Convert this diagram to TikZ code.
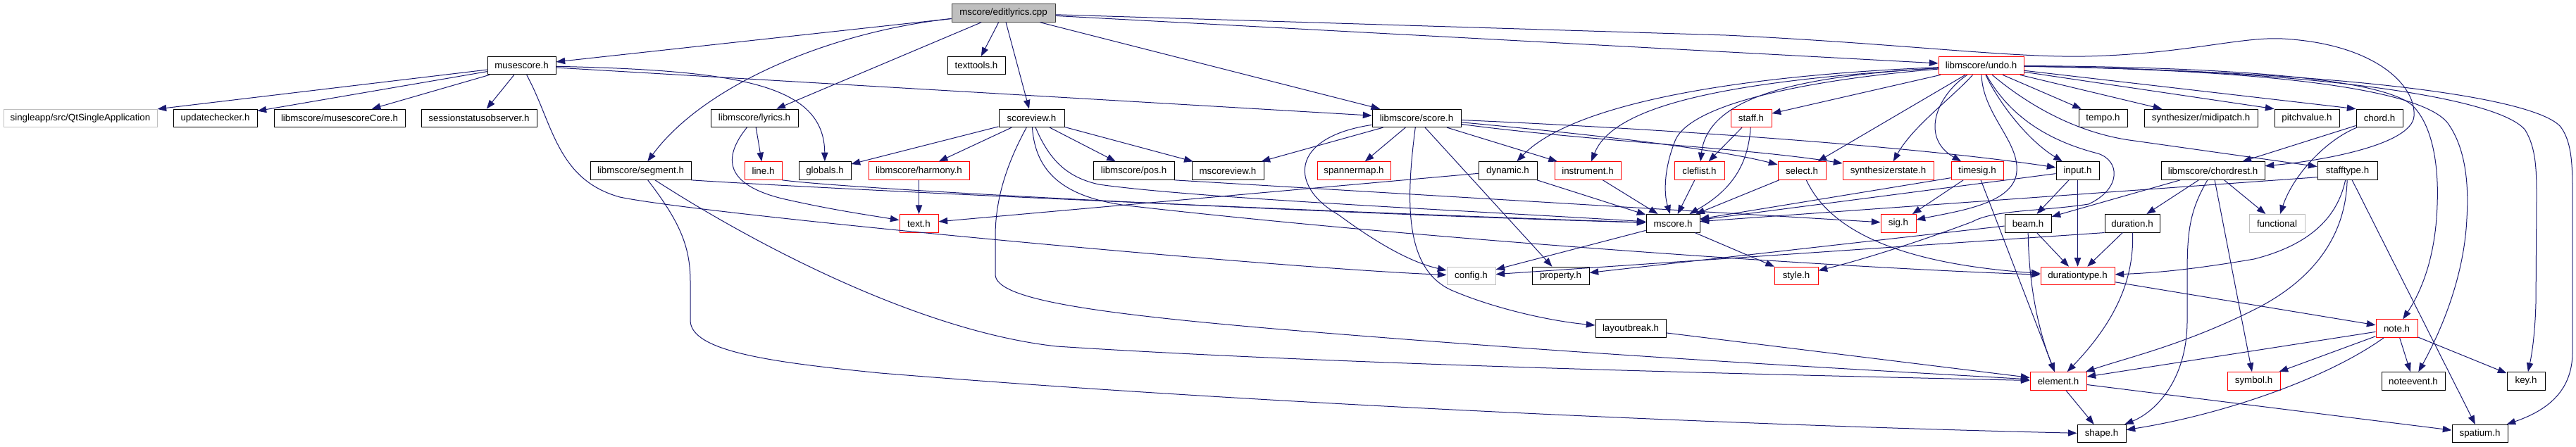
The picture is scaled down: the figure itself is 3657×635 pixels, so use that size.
\documentclass[tikz,border=0pt]{standalone}
\usepackage{fontspec}
\setmainfont{Liberation Sans}
\usetikzlibrary{arrows.meta}
\definecolor{eblue}{RGB}{25,25,112}
\definecolor{ngray}{RGB}{191,191,191}
\definecolor{ndark}{RGB}{64,64,64}
\newcommand\mkbox[6]{\node[#1, minimum width={(#4-#3)*0.75pt}] (#2) at ({(#3+#4)/2},#5) {#6};}
\tikzset{
 box/.style={draw=black, fill=white, line width=0.75pt, inner sep=0pt, minimum height=19.1pt, font=\fontsize{10}{12}\selectfont, text=black},
 rbox/.style={box, draw=red},
 gbox/.style={box, draw=ngray},
 mbox/.style={box, fill=ngray, draw=ndark},
 dep/.style={draw=eblue, line width=0.75pt, -{Triangle[length=9.5pt,width=7pt]}},
}
\begin{document}
\begin{tikzpicture}[x=0.75pt,y=-0.75pt]
\useasboundingbox (0,0) rectangle (3657,635);
% row 0
\mkbox{mbox}{ed}{1351}{1498}{18.5}{mscore/editlyrics.cpp}
% row 1
\mkbox{box}{muse}{692}{789}{93.2}{musescore.h}
\mkbox{box}{tt}{1345}{1427}{93.2}{texttools.h}
\mkbox{rbox}{undo}{2752}{2873}{93.2}{libmscore/undo.h}
% row 2
\mkbox{gbox}{qt}{5}{223}{167.9}{singleapp/src/QtSingleApplication}
\mkbox{box}{upd}{246}{365}{167.9}{updatechecker.h}
\mkbox{box}{core}{389}{575}{167.9}{libmscore/musescoreCore.h}
\mkbox{box}{sess}{598}{762}{167.9}{sessionstatusobserver.h}
\mkbox{box}{lyr}{1009}{1133}{167.9}{libmscore/lyrics.h}
\mkbox{box}{sv}{1418}{1511}{167.9}{scoreview.h}
\mkbox{box}{score}{1948}{2074}{167.9}{libmscore/score.h}
\mkbox{rbox}{staff}{2457}{2515}{167.9}{staff.h}
\mkbox{box}{tempo}{2951}{3020}{167.9}{tempo.h}
\mkbox{box}{midi}{3044}{3205}{167.9}{synthesizer/midipatch.h}
\mkbox{box}{pitch}{3229}{3321}{167.9}{pitchvalue.h}
\mkbox{box}{chord}{3345}{3411}{167.9}{chord.h}
% row 3
\mkbox{box}{seg}{838}{981}{242.6}{libmscore/segment.h}
\mkbox{rbox}{line}{1057}{1110}{242.6}{line.h}
\mkbox{box}{glob}{1134}{1208}{242.6}{globals.h}
\mkbox{rbox}{harm}{1233}{1376}{242.6}{libmscore/harmony.h}
\mkbox{box}{pos}{1552}{1667}{242.6}{libmscore/pos.h}
\mkbox{box}{msv}{1692}{1794}{242.6}{mscoreview.h}
\mkbox{rbox}{span}{1870}{1974}{242.6}{spannermap.h}
\mkbox{box}{dyn}{2099}{2182}{242.6}{dynamic.h}
\mkbox{rbox}{inst}{2207}{2301}{242.6}{instrument.h}
\mkbox{rbox}{clef}{2377}{2448}{242.6}{cleflist.h}
\mkbox{rbox}{sel}{2524}{2592}{242.6}{select.h}
\mkbox{rbox}{synth}{2616}{2745}{242.6}{synthesizerstate.h}
\mkbox{rbox}{ts}{2770}{2844}{242.6}{timesig.h}
\mkbox{box}{input}{2919}{2980}{242.6}{input.h}
\mkbox{box}{crest}{3068}{3215}{242.6}{libmscore/chordrest.h}
\mkbox{box}{stype}{3290}{3375}{242.6}{stafftype.h}
% row 4
\mkbox{rbox}{text}{1277}{1332}{317.3}{text.h}
\mkbox{box}{msc}{2337}{2413}{317.3}{mscore.h}
\mkbox{rbox}{sig}{2670}{2720}{317.3}{sig.h}
\mkbox{box}{beam}{2846}{2912}{317.3}{beam.h}
\mkbox{box}{dur}{2988}{3066}{317.3}{duration.h}
\mkbox{gbox}{func}{3193}{3272}{317.3}{functional}
% row 5
\mkbox{gbox}{cfg}{2054}{2123}{392}{config.h}
\mkbox{box}{prop}{2175}{2256}{392}{property.h}
\mkbox{rbox}{style}{2519}{2581}{392}{style.h}
\mkbox{rbox}{dtype}{2897}{3002}{392}{durationtype.h}
% row 6
\mkbox{box}{lbrk}{2265}{2365}{466.7}{layoutbreak.h}
\mkbox{rbox}{note}{3373}{3432}{466.7}{note.h}
% row 7
\mkbox{rbox}{elem}{2882}{2962}{541.4}{element.h}
\mkbox{rbox}{sym}{3162}{3237}{541.4}{symbol.h}
\mkbox{box}{nevt}{3381}{3471}{541.4}{noteevent.h}
\mkbox{box}{key}{3559}{3613}{541.4}{key.h}
% row 8
\mkbox{box}{shape}{2949}{3018}{616.1}{shape.h}
\mkbox{box}{spat}{3481}{3560}{616.1}{spatium.h}

% editlyrics.cpp
\draw[dep] (ed) -- (muse);
\draw[dep] (ed) .. controls (1180,45) and (1000,120) .. (seg);
\draw[dep] (ed) -- (lyr);
\draw[dep] (ed) -- (tt);
\draw[dep] (ed) -- (sv);
\draw[dep] (ed) -- (score);
\draw[dep] (ed) -- (undo);
\draw[dep] (ed) -- (2450,50) .. controls (2700,62) and (2850,82) .. (2960,80) .. controls (3100,77) and (3180,52) .. (3240,55) .. controls (3370,62) and (3430,120) .. (3427,165) .. controls (3424,205) and (3300,228) .. (crest);
% musescore.h
\draw[dep] (muse) -- (qt);
\draw[dep] (muse) -- (upd);
\draw[dep] (muse) -- (core);
\draw[dep] (muse) -- (sess);
\draw[dep] (muse) .. controls (785,175) and (790,255) .. (880,280) .. controls (1000,305) and (1800,380) .. (cfg);
\draw[dep] (muse) -- (score);
\draw[dep] (muse) .. controls (1050,100) and (1170,120) .. (glob);
% lyrics.h
\draw[dep] (lyr) -- (line);
\draw[dep] (lyr) .. controls (1025,225) and (1030,262) .. (1110,282) .. controls (1180,298) and (1230,305) .. (text);
% segment.h, line.h
\draw[dep] (seg.south east) .. controls (1200,270) and (1900,302) .. (msc);
\draw[dep] (line.south east) .. controls (1220,270) and (1900,304) .. (msc);
\draw[dep] (seg) .. controls (1060,340) and (1300,470) .. (1500,492) .. controls (1900,518) and (2500,532) .. (elem);
\draw[dep] (seg) .. controls (965,315) and (980,350) .. (980,400) -- (980,455) .. controls (980,500) and (1100,515) .. (1250,530) .. controls (1800,575) and (2500,605) .. (shape);
% scoreview.h
\draw[dep] (sv) -- (glob);
\draw[dep] (sv) -- (harm);
\draw[dep] (sv) -- (pos);
\draw[dep] (sv) -- (msv);
\draw[dep] (sv) .. controls (1425,240) and (1413,290) .. (1413,335) -- (1413,390) .. controls (1413,425) and (1550,445) .. (1820,468) .. controls (2300,508) and (2700,528) .. (elem);
\draw[dep] (sv) .. controls (1490,228) and (1515,252) .. (1560,262) .. controls (1700,282) and (2100,300) .. (msc);
\draw[dep] (sv) .. controls (1470,245) and (1510,280) .. (1600,292) .. controls (2000,338) and (2600,380) .. (dtype);
% score.h
\draw[dep] (score) -- (span);
\draw[dep] (score) -- (msv);
\draw[dep] (score) .. controls (1830,195) and (1830,265) .. (1900,305) .. controls (1950,342) and (2000,372) .. (cfg);
\draw[dep] (score) .. controls (1995,290) and (1995,382) .. (2060,412) .. controls (2120,438) and (2200,456) .. (lbrk);
\draw[dep] (score) -- (prop);
\draw[dep] (score) -- (inst);
\draw[dep] (score) .. controls (2300,180) and (2700,205) .. (input);
\draw[dep] (score) .. controls (2250,190) and (2430,210) .. (sel);
\draw[dep] (score) .. controls (2250,200) and (2480,210) .. (synth);
% undo.h
\draw[dep] (undo) .. controls (2450,108) and (2230,150) .. (dyn);
\draw[dep] (undo) .. controls (2450,115) and (2290,150) .. (inst);
\draw[dep] (undo) .. controls (2580,112) and (2400,145) .. (2378,200) .. controls (2362,240) and (2362,275) .. (msc);
\draw[dep] (undo) .. controls (2560,108) and (2425,135) .. (clef);
\draw[dep] (undo) -- (staff);
\draw[dep] (undo) -- (sel);
\draw[dep] (undo) .. controls (2770,140) and (2715,180) .. (synth);
\draw[dep] (undo) .. controls (2750,135) and (2725,195) .. (ts);
\draw[dep] (undo) .. controls (2815,165) and (2872,205) .. (2862,250) .. controls (2852,290) and (2780,300) .. (sig);
\draw[dep] (undo) .. controls (2840,150) and (2880,200) .. (input);
\draw[dep] (undo) .. controls (2850,160) and (2900,198) .. (2978,218) .. controls (3010,228) and (3012,268) .. (2965,290) .. controls (2900,300) and (2830,298) .. (2800,315) .. controls (2720,345) and (2640,370) .. (style);
\draw[dep] (undo) -- (tempo);
\draw[dep] (undo) -- (midi);
\draw[dep] (undo) -- (pitch.north west);
\draw[dep] (undo) -- (chord.north west);
\draw[dep] (undo) .. controls (2880,150) and (2950,190) .. (3030,200) -- (stype);
\draw[dep] (undo) .. controls (3150,95) and (3380,110) .. (3425,150) .. controls (3455,180) and (3462,240) .. (3460,290) .. controls (3458,360) and (3440,410) .. (note);
\draw[dep] (undo) .. controls (3250,100) and (3440,130) .. (3475,175) .. controls (3500,210) and (3505,260) .. (3502,310) .. controls (3498,400) and (3460,480) .. (nevt);
\draw[dep] (undo) .. controls (3300,100) and (3550,140) .. (3585,185) .. controls (3600,210) and (3601,240) .. (3601,280) -- (3600,430) .. controls (3599,470) and (3595,500) .. (key);
\draw[dep] (undo) .. controls (3350,102) and (3600,140) .. (3635,180) .. controls (3650,200) and (3652,230) .. (3652,270) -- (3652,500) .. controls (3652,560) and (3610,585) .. (spat);
% chord.h
\draw[dep] (chord) -- (crest);
\draw[dep] (chord) .. controls (3300,200) and (3255,250) .. (func);
% chordrest.h
\draw[dep] (crest) -- (dur);
\draw[dep] (crest) -- (func);
\draw[dep] (crest) .. controls (3108,300) and (3105,330) .. (3105,390) -- (3105,455) .. controls (3105,540) and (3060,585) .. (shape);
\draw[dep] (crest) -- (sym);
\draw[dep] (crest) -- (beam);
% stafftype.h
\draw[dep] (stype.192) -- (msc);
\draw[dep] (stype) .. controls (3320,300) and (3290,345) .. (3200,368) .. controls (3100,385) and (3050,388) .. (dtype);
\draw[dep] (stype) .. controls (3330,330) and (3290,395) .. (3200,440) .. controls (3100,490) and (3020,508) .. (elem);
\draw[dep] (stype) -- (spat);
% duration.h, beam.h, input.h
\draw[dep] (dur) -- (dtype);
\draw[dep] (dur) .. controls (3030,400) and (3000,460) .. (elem);
\draw[dep] (dur.south west) -- (cfg);
\draw[dep] (beam) -- (dtype);
\draw[dep] (beam) .. controls (2880,400) and (2892,465) .. (elem);
\draw[dep] (beam) -- (prop);
\draw[dep] (input) -- (beam);
\draw[dep] (input) -- (dtype);
\draw[dep] (input) -- (msc);
% timesig.h, select.h, staff.h
\draw[dep] (ts.195) -- (msc);
\draw[dep] (ts) -- (sig);
\draw[dep] (ts) -- (elem);
\draw[dep] (sel) -- (msc);
\draw[dep] (sel) .. controls (2590,310) and (2660,372) .. (dtype);
\draw[dep] (staff) -- (clef);
\draw[dep] (staff) .. controls (2482,230) and (2462,268) .. (msc);
% others
\draw[dep] (clef) -- (msc);
\draw[dep] (inst) -- (msc);
\draw[dep] (dyn) -- (msc);
\draw[dep] (dyn) -- (text);
\draw[dep] (harm) -- (text);
\draw[dep] (msc) -- (cfg);
\draw[dep] (msc) -- (style);
\draw[dep] (pos.south east) -- (sig);
\draw[dep] (lbrk) -- (elem);
\draw[dep] (elem) -- (shape);
\draw[dep] (elem) -- (spat);
\draw[dep] (note) -- (sym);
\draw[dep] (note) -- (nevt);
\draw[dep] (note) -- (key);
\draw[dep] (note) -- (elem);
\draw[dep] (note) .. controls (3300,540) and (3150,590) .. (shape);
\draw[dep] (dtype) -- (note);
\end{tikzpicture}
\end{document}
